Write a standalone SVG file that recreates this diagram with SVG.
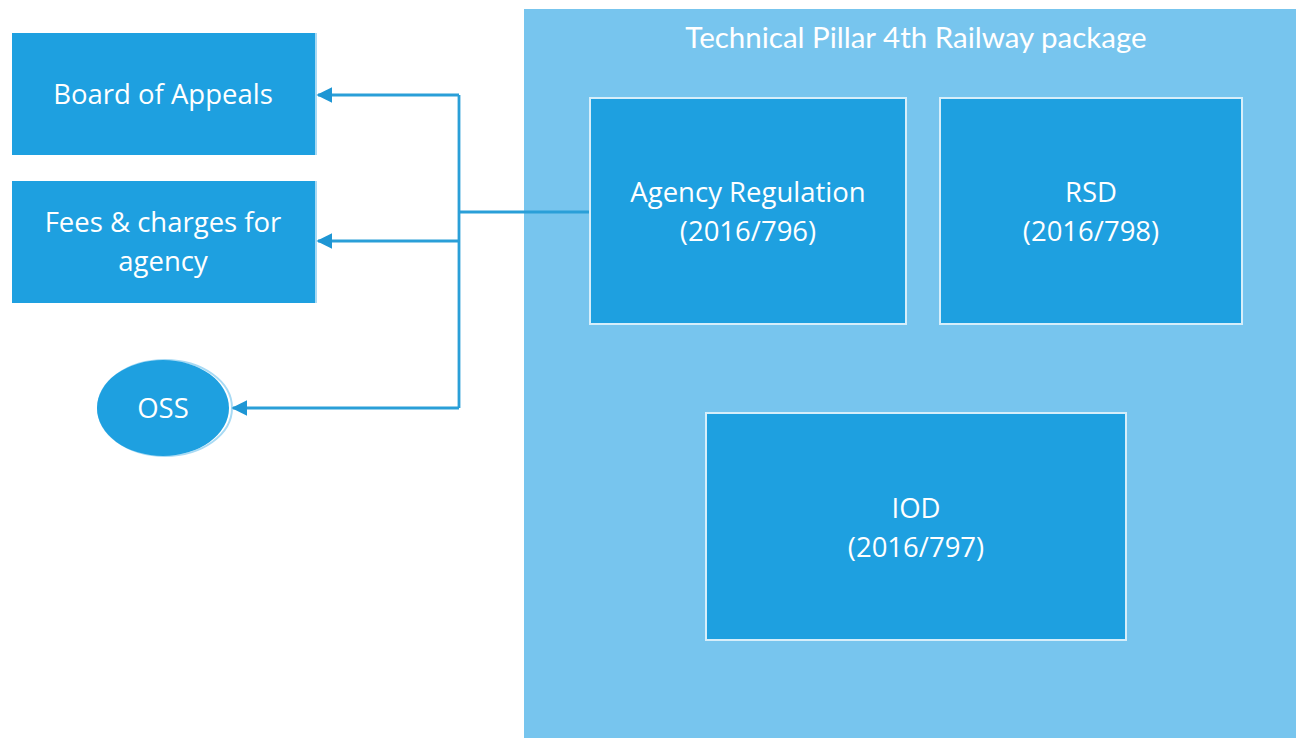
<svg xmlns="http://www.w3.org/2000/svg" width="1296" height="738" viewBox="0 0 1296 738">
<defs>
<style>
.box{fill:#1EA0E0;}
.inner{fill:#1EA0E0;stroke:#D6EEFA;stroke-width:2;}
.t{font-family:"Open Sans","Liberation Sans",sans-serif;font-size:27.5px;fill:#FFFFFF;text-anchor:middle;}
.title{font-family:"Lato","Open Sans",sans-serif;font-size:29.5px;fill:#FFFFFF;text-anchor:middle;}
.conn{fill:none;stroke:#2A9FD8;stroke-width:2.8;}
</style>
<marker id="arr" viewBox="0 0 10 10" refX="9" refY="5" markerWidth="16" markerHeight="16" markerUnits="userSpaceOnUse" orient="auto">
<path d="M0,0 L10,5 L0,10 z" fill="#1E96D4"/>
</marker>
</defs>
<rect width="1296" height="738" fill="#FFFFFF"/>
<g id="container">
<rect x="524" y="9" width="772" height="729" fill="#77C5EE"/>
<text class="title" x="916" y="48">Technical Pillar 4th Railway package</text>
</g>
<g id="board-of-appeals">
<rect class="box" x="12" y="33" width="303" height="122"/>
<rect x="315" y="33" width="2" height="122" fill="#A8DAF4"/>
<text class="t" x="163" y="104">Board of Appeals</text>
</g>
<g id="fees">
<rect class="box" x="12" y="181" width="303" height="122"/>
<rect x="315" y="181" width="2" height="122" fill="#A8DAF4"/>
<text class="t" x="163" y="232">Fees &amp; charges for</text>
<text class="t" x="163" y="271">agency</text>
</g>
<g id="oss">
<ellipse cx="165" cy="408" rx="67" ry="48" fill="none" stroke="#A8DAF4" stroke-width="2"/>
<ellipse class="box" cx="163" cy="408" rx="66" ry="48"/>
<text class="t" x="163" y="418">OSS</text>
</g>
<g id="agency-regulation">
<rect class="inner" x="590" y="98" width="316" height="226"/>
<text class="t" x="748" y="202">Agency Regulation</text>
<text class="t" x="748" y="241">(2016/796)</text>
</g>
<g id="rsd">
<rect class="inner" x="940" y="98" width="302" height="226"/>
<text class="t" x="1091" y="202">RSD</text>
<text class="t" x="1091" y="241">(2016/798)</text>
</g>
<g id="iod">
<rect class="inner" x="706" y="413" width="420" height="227"/>
<text class="t" x="916" y="518">IOD</text>
<text class="t" x="916" y="557">(2016/797)</text>
</g>
<g id="connectors">
<path class="conn" d="M589,212 H459"/>
<path class="conn" d="M459,95 V408"/>
<path class="conn" d="M459,95 H318" marker-end="url(#arr)"/>
<path class="conn" d="M459,241 H318" marker-end="url(#arr)"/>
<path class="conn" d="M459,408 H233" marker-end="url(#arr)"/>
</g>
</svg>
